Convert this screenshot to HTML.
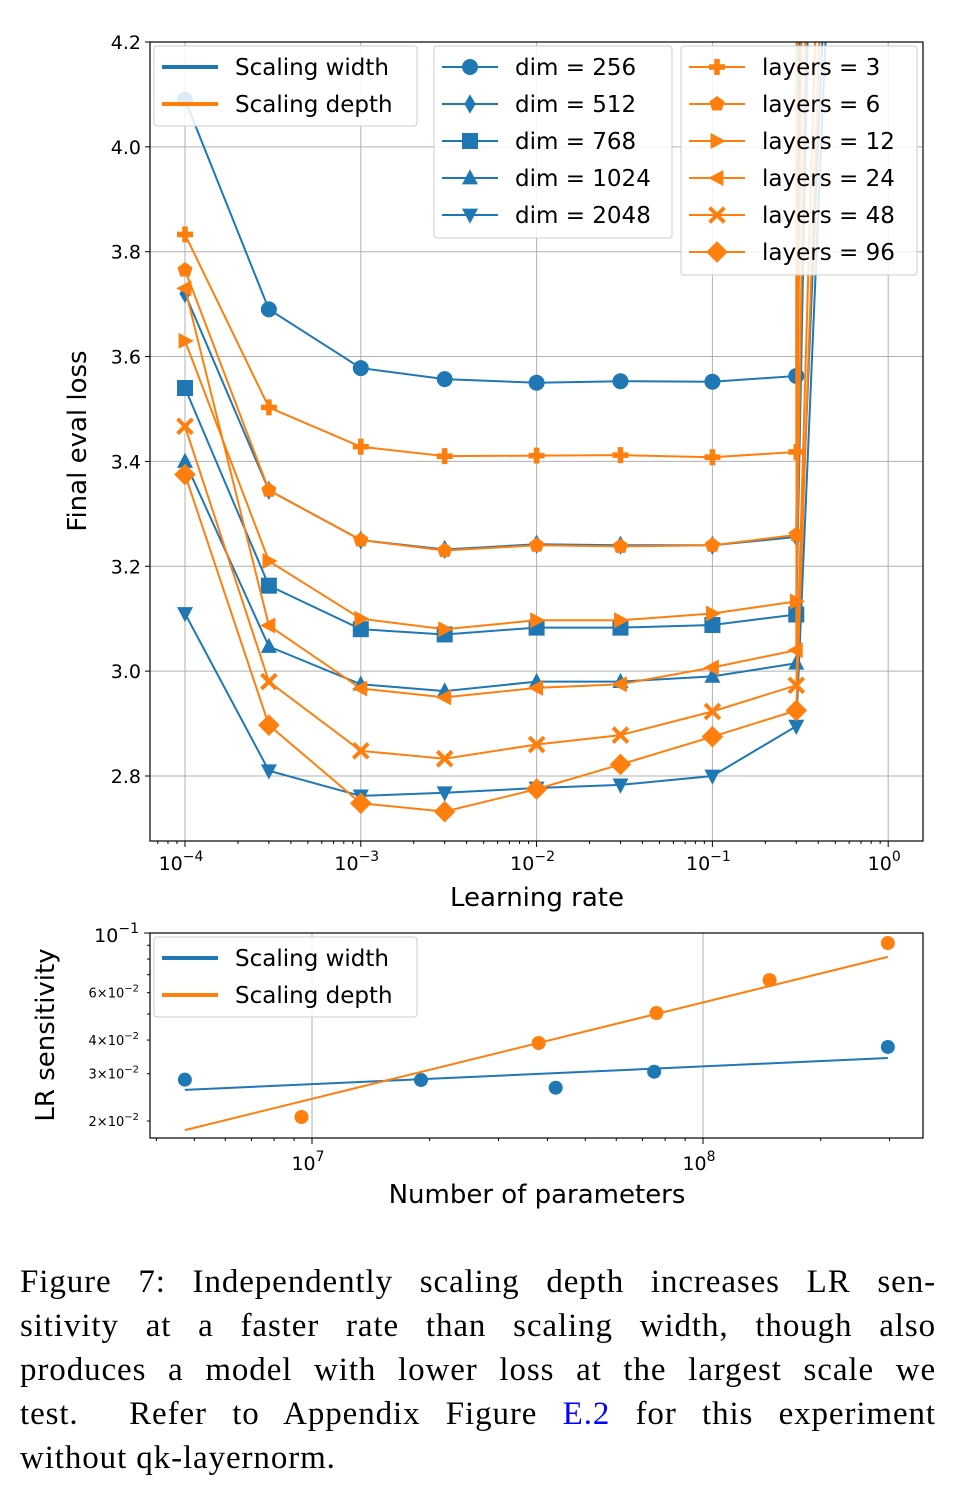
<!DOCTYPE html>
<html><head><meta charset="utf-8"><style>
body{margin:0;background:#fff;width:968px;height:1496px;overflow:hidden}
svg text{font-family:"DejaVu Sans","Liberation Sans",sans-serif}
#cap{position:absolute;left:20px;top:1260px;width:916px;font-family:"Liberation Serif",serif;font-size:33px;letter-spacing:0.9px;line-height:44px;color:#000}
#cap div{text-align:justify;text-align-last:justify;white-space:nowrap}
#cap div.l{text-align-last:left}
</style></head><body>
<svg id="s" width="968" height="1250" style="position:absolute;left:0;top:0"></svg>
<div id="cap">
<div>Figure 7: Independently scaling depth increases LR sen-</div>
<div>sitivity at a faster rate than scaling width, though also</div>
<div>produces a model with lower loss at the largest scale we</div>
<div>test. &nbsp;Refer to Appendix Figure <span style="color:#0000ff">E.2</span> for this experiment</div>
<div class="l">without qk-layernorm.</div>
</div>
<script>
const lrs=[1e-4,3e-4,1e-3,3e-3,1e-2,3e-2,1e-1,3e-1,1];
const dim256=[4.09,3.69,3.578,3.557,3.55,3.553,3.552,3.563,200];
const dim512=[3.72,3.345,3.25,3.232,3.242,3.24,3.24,3.256,30];
const dim768=[3.54,3.163,3.08,3.07,3.083,3.083,3.088,3.108,12];
const dim1024=[3.40,3.047,2.975,2.962,2.98,2.98,2.99,3.015,7.2];
const dim2048=[3.11,2.81,2.762,2.768,2.777,2.783,2.8,2.895,7.0];
const lay3=[3.833,3.503,3.428,3.41,3.411,3.412,3.408,3.418,300];
const lay6=[3.765,3.345,3.25,3.23,3.24,3.238,3.24,3.26,20];
const lay12=[3.63,3.21,3.10,3.08,3.097,3.097,3.11,3.133,14];
const lay24=[3.73,3.087,2.967,2.95,2.968,2.975,3.007,3.04,100];
const lay48=[3.467,2.98,2.848,2.833,2.86,2.878,2.923,2.973,9];
const lay96=[3.375,2.897,2.748,2.732,2.775,2.822,2.875,2.925,8];
const yTicks=[2.8,3.0,3.2,3.4,3.6,3.8,4.0,4.2];
const xTickExp=[-4,-3,-2,-1,0];
const wParams=[4.73e6,1.9e7,4.2e7,7.5e7,2.97e8];
const wSens=[0.0285,0.0284,0.0266,0.0305,0.0377];
const dParams=[9.4e6,3.8e7,7.6e7,1.48e8,2.97e8];
const dSens=[0.0207,0.039,0.0504,0.0668,0.0918];
const fitX=[4.73e6,2.97e8];
const wFit=[0.0261,0.0343];
const dFit=[0.0185,0.0815];

const B='#1f77b4',O='#ff7f0e',NS='http://www.w3.org/2000/svg',S=document.getElementById('s');
function el(t,a,p){const e=document.createElementNS(NS,t);for(const k in a)e.setAttribute(k,a[k]);(p||S).appendChild(e);return e;}
const L=150,R=923,T=42,Bt=841;
const X=v=>185+(Math.log10(v)+4)*175.8;
const Y=v=>776-(v-2.8)*524.3;
const defs=el('defs',{});const cp=el('clipPath',{id:'c1'},defs);el('rect',{x:L,y:T,width:R-L,height:Bt-T},cp);
const cp2=el('clipPath',{id:'c2'},defs);el('rect',{x:150,y:933,width:773,height:205},cp2);
const grid=el('g',{});
yTicks.forEach(v=>{el('line',{x1:L,x2:R,y1:Y(v),y2:Y(v),stroke:'#b0b0b0','stroke-width':1},grid);
 el('line',{x1:L-5,x2:L,y1:Y(v),y2:Y(v),stroke:'#000'});
 const t=el('text',{x:L-9,y:Y(v)+7,'text-anchor':'end','font-size':19});t.textContent=v.toFixed(1);
 });
xTickExp.forEach(e=>{const x=X(Math.pow(10,e));el('line',{x1:x,x2:x,y1:T,y2:Bt,stroke:'#b0b0b0','stroke-width':1},grid);
 el('line',{x1:x,x2:x,y1:Bt,y2:Bt+6,stroke:'#000'});
 const t=el('text',{x:x-4,y:Bt+29,'text-anchor':'middle','font-size':19});t.innerHTML='10<tspan dy="-9" font-size="14">'+(e<0?'−'+(-e):e)+'</tspan>';
 
 for(let k=2;k<10;k++){const xm=X(k*Math.pow(10,e-1));if(xm>L&&xm<R)el('line',{x1:xm,x2:xm,y1:Bt,y2:Bt+3,stroke:'#000'});}
});
function marker(g,sh,x,y,c,s){s=s||8;let e;
 if(sh=='o')e=el('circle',{cx:x,cy:y,r:s},g);
 else if(sh=='d')e=el('polygon',{points:`${x},${y-s*1.2} ${x+s*0.7},${y} ${x},${y+s*1.2} ${x-s*0.7},${y}`},g);
 else if(sh=='s')e=el('rect',{x:x-s,y:y-s,width:2*s,height:2*s},g);
 else if(sh=='^')e=el('polygon',{points:`${x},${y-s*1.1} ${x+s},${y+s*0.8} ${x-s},${y+s*0.8}`},g);
 else if(sh=='v')e=el('polygon',{points:`${x},${y+s*1.1} ${x+s},${y-s*0.8} ${x-s},${y-s*0.8}`},g);
 else if(sh=='>')e=el('polygon',{points:`${x+s*1.1},${y} ${x-s*0.8},${y-s} ${x-s*0.8},${y+s}`},g);
 else if(sh=='<')e=el('polygon',{points:`${x-s*1.1},${y} ${x+s*0.8},${y-s} ${x+s*0.8},${y+s}`},g);
 else if(sh=='P'){const a=s*0.35;e=el('polygon',{points:`${x-a},${y-s} ${x+a},${y-s} ${x+a},${y-a} ${x+s},${y-a} ${x+s},${y+a} ${x+a},${y+a} ${x+a},${y+s} ${x-a},${y+s} ${x-a},${y+a} ${x-s},${y+a} ${x-s},${y-a} ${x-a},${y-a}`},g);}
 else if(sh=='p'){let p=[];for(let i=0;i<5;i++){const a=-Math.PI/2+i*2*Math.PI/5;p.push((x+s*Math.cos(a))+','+(y+s*Math.sin(a)));}e=el('polygon',{points:p.join(' ')},g);}
 else if(sh=='X'){const a=s*0.35,q=s*0.75;e=el('polygon',{points:`${x-q},${y-q-a} ${x},${y-a} ${x+q},${y-q-a} ${x+q+a},${y-q} ${x+a},${y} ${x+q+a},${y+q} ${x+q},${y+q+a} ${x},${y+a} ${x-q},${y+q+a} ${x-q-a},${y+q} ${x-a},${y} ${x-q-a},${y-q}`},g);}
 else if(sh=='D')e=el('polygon',{points:`${x},${y-s*1.2} ${x+s*1.2},${y} ${x},${y+s*1.2} ${x-s*1.2},${y}`},g);
 e.setAttribute('fill',c);return e;}
const series=[['dim-256',dim256,B,'o'],['dim-512',dim512,B,'d'],['dim-768',dim768,B,'s'],['dim-1024',dim1024,B,'^'],['dim-2048',dim2048,B,'v'],
['layers-3',lay3,O,'P'],['layers-6',lay6,O,'p'],['layers-12',lay12,O,'>'],['layers-24',lay24,O,'<'],['layers-48',lay48,O,'X'],['layers-96',lay96,O,'D']];
const plot=el('g',{'clip-path':'url(#c1)'});
series.forEach(([n,v,c,m])=>{const g=el('g',{},plot);
 el('polyline',{points:v.map((y,i)=>X(lrs[i])+','+Y(y)).join(' '),fill:'none',stroke:c,'stroke-width':2},g);
 v.forEach((y,i)=>marker(g,m,X(lrs[i]),Y(y),c,m=='D'?9:8));});
el('rect',{x:L,y:T,width:R-L,height:Bt-T,fill:'none',stroke:'#000','stroke-width':1.2});
let t=el('text',{x:537,y:906,'text-anchor':'middle','font-size':26});t.textContent='Learning rate';
t=el('text',{x:0,y:0,'text-anchor':'middle','font-size':26,transform:'translate(86,441) rotate(-90)'});t.textContent='Final eval loss';
function legend(x,y,w,h,rows,name){const g=el('g',{});
 el('rect',{x,y,width:w,height:h,rx:3,fill:'#fff','fill-opacity':0.85,stroke:'#ccc'},g);
 rows.forEach((r,i)=>{const yy=y+21+i*37;const e=el('g',{},g);
  el('line',{x1:x+8,x2:x+64,y1:yy,y2:yy,stroke:r[1],'stroke-width':r[2]?4:2},e);if(r[2]==null&&r[3])marker(e,r[3],x+36,yy,r[1],r[3]=='D'?9:8);
  const tt=el('text',{x:x+81,y:yy+8,'font-size':23},e);tt.textContent=r[0];});}
legend(154,46,263,80,[['Scaling width',B,1],['Scaling depth',O,1]],'legend-scaling');
legend(434,46,238,192,[['dim = 256',B,null,'o'],['dim = 512',B,null,'d'],['dim = 768',B,null,'s'],['dim = 1024',B,null,'^'],['dim = 2048',B,null,'v']],'legend-dims');
legend(681,46,236,229,[['layers = 3',O,null,'P'],['layers = 6',O,null,'p'],['layers = 12',O,null,'>'],['layers = 24',O,null,'<'],['layers = 48',O,null,'X'],['layers = 96',O,null,'D']],'legend-layers');
const X2=v=>312+(Math.log10(v)-7)*391, Y2=v=>933-(Math.log10(v)+1)*269;
[1e7,1e8].forEach(v=>{el('line',{x1:X2(v),x2:X2(v),y1:933,y2:1138,stroke:'#b0b0b0'});el('line',{x1:X2(v),x2:X2(v),y1:1138,y2:1144,stroke:'#000'});
 const tt=el('text',{x:X2(v)-4,y:1170,'text-anchor':'middle','font-size':19});tt.innerHTML='10<tspan dy="-9" font-size="14">'+Math.log10(v)+'</tspan>';});
for(let e=6;e<=8;e++)for(let k=2;k<10;k++){const x=X2(k*Math.pow(10,e));if(x>150&&x<923)el('line',{x1:x,x2:x,y1:1138,y2:1141,stroke:'#000'});}
[0.02,0.03,0.04,0.05,0.06,0.07,0.08,0.09].forEach(v=>el('line',{x1:147,x2:150,y1:Y2(v),y2:Y2(v),stroke:'#000'}));
el('line',{x1:144,x2:150,y1:933,y2:933,stroke:'#000'});
t=el('text',{x:139,y:942,'text-anchor':'end','font-size':19});t.innerHTML='10<tspan dy="-9" font-size="14">−1</tspan>';
[[0.06,'6'],[0.04,'4'],[0.03,'3'],[0.02,'2']].forEach(([v,s])=>{const tt=el('text',{x:139,y:Y2(v)+5,'text-anchor':'end','font-size':13});tt.innerHTML=s+'\u00d710<tspan dy="-6" font-size="10">−2</tspan>';});
const p2=el('g',{'clip-path':'url(#c2)'});
[[wParams,wSens,B,'width',wFit],[dParams,dSens,O,'depth',dFit]].forEach(([xs,ys,c,n,f])=>{const g=el('g',{},p2);
 el('line',{x1:X2(fitX[0]),y1:Y2(f[0]),x2:X2(fitX[1]),y2:Y2(f[1]),stroke:c,'stroke-width':2},g);
 xs.forEach((x,i)=>el('circle',{cx:X2(x),cy:Y2(ys[i]),r:7,fill:c},g));});
el('rect',{x:150,y:933,width:773,height:205,fill:'none',stroke:'#000','stroke-width':1.2});
legend(154,937,263,80,[['Scaling width',B,1],['Scaling depth',O,1]],'legend-sensitivity');
t=el('text',{x:537,y:1203,'text-anchor':'middle','font-size':26});t.textContent='Number of parameters';
t=el('text',{x:0,y:0,'text-anchor':'middle','font-size':26,transform:'translate(54,1035) rotate(-90)'});t.textContent='LR sensitivity';
</script>
</body></html>
